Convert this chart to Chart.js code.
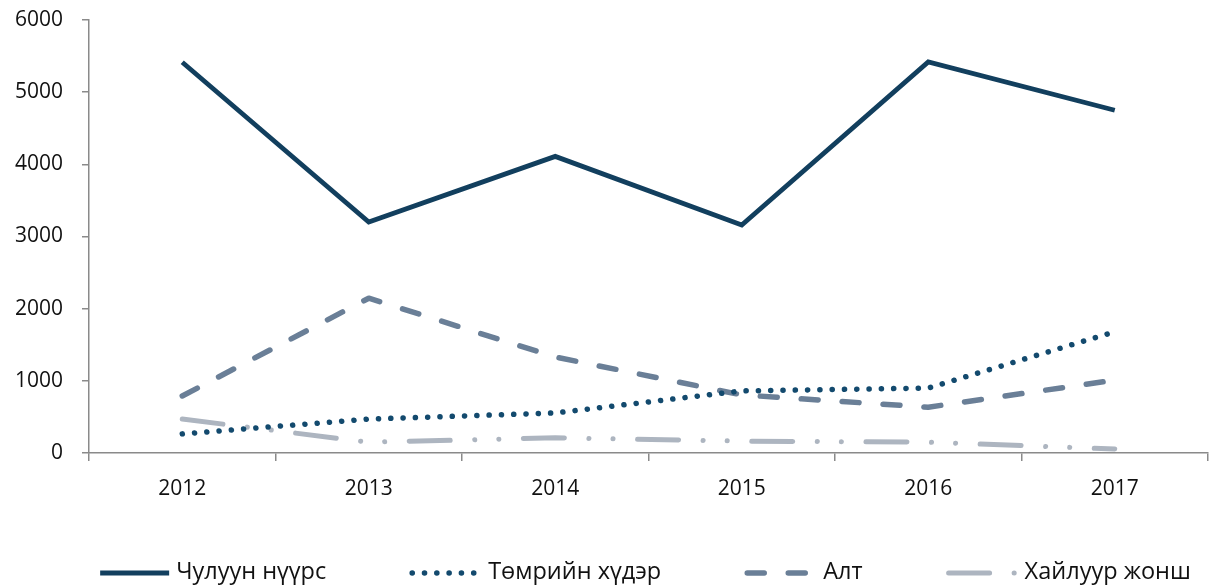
<!DOCTYPE html>
<html>
<head>
<meta charset="utf-8">
<script src="https://cdn.jsdelivr.net/npm/chart.js@4/dist/chart.umd.min.js"></script>
<style>
  html, body { margin: 0; padding: 0; background: #fff; }
  #wrap { width: 1209px; height: 586px; }
</style>
</head>
<body>
<div id="wrap"><canvas id="chart"></canvas></div>
<script>
"use strict";

var years = ["2012", "2013", "2014", "2015", "2016", "2017"];
var coal = [5415, 3200, 4110, 3160, 5420, 4750];
var ironOre = [265, 470, 555, 860, 900, 1680];
var gold = [790, 2145, 1330, 805, 635, 1010];
var fluorspar = [470, 150, 210, 165, 150, 55];

var names = ["Чулуун нүүрс", "Төмрийн хүдэр", "Алт", "Хайлуур жонш"];

var FONT = "'Open Sans', 'Noto Sans', sans-serif";
var AXIS = "#8a8a8a";

// legend drawn by hand, so the sample lines carry the dataset dash pattern
var bottomLegend = {
    id: "bottomLegend",
    afterDraw: function(chart) {
        var ctx = chart.ctx;
        var sets = chart.data.datasets;
        var sample = 73, textGap = 5, itemGap = 84;
        var y = chart.height - 13;
        ctx.save();
        ctx.font = "23.5px " + FONT;
        var widths = sets.map(function(d) {
            return sample + textGap + ctx.measureText(d.label).width;
        });
        var total = widths.reduce(function(a, b) { return a + b; }, 0) + itemGap * (sets.length - 1);
        var x = (chart.chartArea.left + chart.chartArea.right) / 2 - total / 2 - 4;
        sets.forEach(function(d, i) {
            ctx.beginPath();
            ctx.setLineDash(d.borderDash || []);
            ctx.lineCap = d.borderCapStyle || "butt";
            ctx.lineWidth = d.borderWidth;
            ctx.strokeStyle = d.borderColor;
            ctx.moveTo(x + 2, y);
            ctx.lineTo(x + sample - 2, y);
            ctx.stroke();
            ctx.setLineDash([]);
            ctx.fillStyle = "#111";
            ctx.textBaseline = "middle";
            ctx.textAlign = "left";
            ctx.fillText(d.label, x + sample + textGap, y - 1);
            x += widths[i] + itemGap;
        });
        ctx.restore();
    }
};

function series(label, data, color, width, dash) {
    return {
        label: label,
        data: data,
        borderColor: color,
        backgroundColor: color,
        borderWidth: width,
        borderDash: dash,
        borderCapStyle: dash.length ? "round" : "butt",
        borderJoinStyle: dash.length ? "round" : "miter",
        pointRadius: 0,
        pointHoverRadius: 0,
        tension: 0,
        fill: false
    };
}

new Chart(document.getElementById("chart"), {
    type: "line",
    data: {
        labels: years,
        datasets: [
            series(names[0], coal, "#123f5e", 4.8, []),
            series(names[1], ironOre, "#134a6e", 5.5, [0.1, 12.2]),
            series(names[2], gold, "#6a7f97", 5.5, [17, 24]),
            series(names[3], fluorspar, "#adb5c0", 5, [41, 24.5, 0.1, 24, 0.1, 24.5])
        ]
    },
    options: {
        responsive: true,
        maintainAspectRatio: false,
        animation: false,
        layout: { padding: { left: 0, right: 1, top: 20, bottom: 63 } },
        plugins: {
            legend: { display: false },
            tooltip: { enabled: false }
        },
        scales: {
            x: {
                offset: true,
                afterFit: function(s) { s.height = 70; },
                border: { color: AXIS, width: 1.5 },
                grid: { offset: true, drawOnChartArea: false, tickLength: 8, color: AXIS, lineWidth: 1.5 },
                ticks: { color: "#111", padding: 15, font: { family: FONT, size: 21 } }
            },
            y: {
                min: 0,
                max: 6000,
                afterFit: function(s) {
                    s.width = 89;
                    s.paddingTop = 0;
                    s.paddingBottom = 0;
                },
                border: { color: AXIS, width: 1.5 },
                grid: { drawOnChartArea: false, tickLength: 7, color: AXIS, lineWidth: 1.5 },
                ticks: {
                    stepSize: 1000,
                    color: "#111",
                    padding: 19,
                    font: { family: FONT, size: 21 },
                    callback: function(v) { return String(v); }
                }
            }
        }
    },
    plugins: [bottomLegend]
});
</script>
</body>
</html>
